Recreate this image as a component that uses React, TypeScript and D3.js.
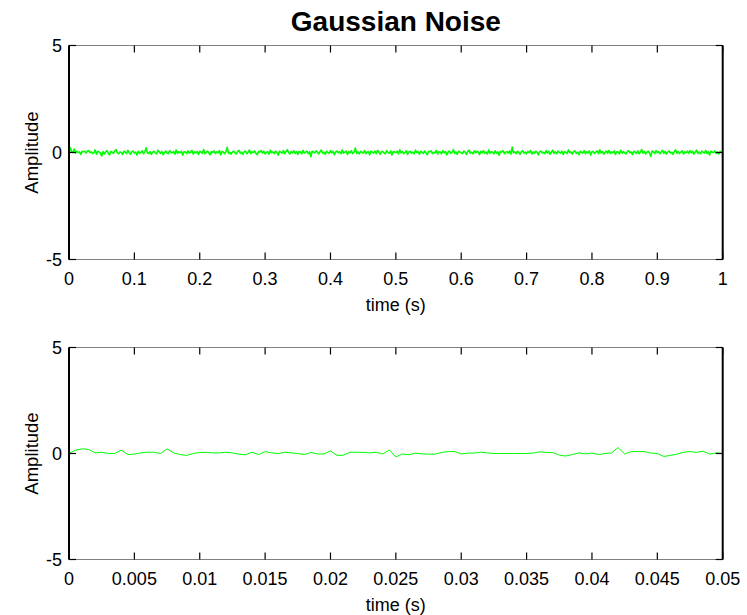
import React from "react";
import * as d3 from "d3";

const TITLE = "Gaussian Noise";
const X_LABEL = "time (s)";
const Y_LABEL = "Amplitude";
const FS_TOP = 500; // samples per second drawn in the top panel
const FS_BOTTOM = 2000; // samples per second in the zoomed panel
const Y_TICKS = [-5, 0, 5];
const TOP_X_TICKS = [0, 0.1, 0.2, 0.3, 0.4, 0.5, 0.6, 0.7, 0.8, 0.9, 1];
const BOTTOM_X_TICKS = [0, 0.005, 0.01, 0.015, 0.02, 0.025, 0.03, 0.035, 0.04, 0.045, 0.05];

// zoomed panel: 0 .. 0.05 s
const noiseZoom = [
  0, .16, .22, .19, .03, .06, 0, 0, .16, -.05, -.03, .03, .06, .06, 0, .22, .03, -.05, -.09, 0,
  .05, .05, .03, .03, .06, .03, -.03, -.06, .06, -.05, .09, .03, 0, .06, .03, 0, -.05, .05, -.02, -.02,
  .12, -.09, -.08, .06, .06, .05, .03, .06, -.02, .17, -.16, -.02, -.06, .02, -.02, -.03, -.03, .05, .09, .09,
  -.02, .02, .02, .06, .03, 0, 0, 0, 0, 0, 0, .02, .08, .05, .05, -.08, -.12, -.05, .03, -.02,
  .02, -.05, 0, .03, .28, -.02, .09, .09, .09, .02, 0, -.14, -.09, -.03, .06, .09, .05, .11, -.03, .03, 0,
];

// full panel: 0 .. 1 s
const noiseFull = [
  0, .22, .03, 0, .16, -.03, .06, 0, .03, -.09, .05, .03, .06, -.03, .06, .09, 0, .03, -.05, -.02, .12, -.08, .06, .03, -.02, -.16,
  .04, -.07, .02, .09, -.03, -.11, .05, .01, -.04, .08, .13, -.02, -.06, .03, .00, -.09, .06, .02, -.05, .10, -.01, -.08, .04, .07, -.03,
  .02, -.12, .06, -.04, .01, .08, -.06, .03, .22, -.02, -.05, .04, -.09, .02, .06, -.01, -.07, .11, .03, -.04, .05, -.10, .00, .07, -.03,
  -.06, .09, .01, -.02, .05, -.08, .12, -.04, .03, -.01, .06, -.13, .04, .02, -.05, .08, -.03, .01, .10, -.07, .03, -.02, .05, -.09, .06,
  .02, -.04, .14, -.06, .01, .07, -.03, -.10, .04, .00, .08, -.05, .03, -.02, .09, -.11, .05, .02, -.06, .04, .24, -.04, .01, -.08, .03,
  .06, -.02, -.07, .05, .10, -.03, .02, -.09, .04, .07, -.05, .01, .12, -.06, .03, -.01, .08, -.04, -.10, .05, .02, .09, -.03, .06, -.07,
  .01, .04, -.08, .11, -.02, .03, -.05, .07, .00, -.12, .06, .02, -.03, .09, -.06, .04, .13, -.01, -.07, .05, -.02, .08, -.04, .03, -.09,
  .05, .02, -.06, .10, -.03, .01, .07, -.05, .04, -.20, .06, .03, -.02, .08, .01, -.07, .04, .11, -.03, .02, -.08, .06, .00, -.04, .09,
  -.02, .05, -.10, .03, .07, -.01, .04, -.06, .12, -.03, .02, .06, -.09, .04, -.02, .08, -.05, .01, .21, -.04, .03, -.07, .05, .02, -.03,
  .09, -.06, .02, .04, -.11, .07, .01, -.03, .06, -.05, .10, .02, -.08, .03, .05, -.02, -.06, .09, .01, -.04, .07, -.12, .04, .03, -.01,
  .06, -.07, .13, -.02, .04, -.05, .01, .08, -.09, .03, .05, -.03, .02, -.06, .11, -.01, .04, -.08, .06, .02, -.04, .07, -.02, -.10, .05,
  .03, .08, -.05, .01, -.03, .10, -.07, .04, .02, -.06, .09, -.02, .05, -.11, .03, .07, -.04, .01, .14, -.05, .02, -.08, .06, .03, -.02,
  -.05, .07, .02, -.09, .04, .11, -.03, .01, -.06, .08, -.02, .05, .03, -.10, .06, -.01, .09, -.04, .02, -.07, .12, -.03, .04, .01, -.06,
  .08, -.04, .03, -.13, .05, .02, .09, -.06, .01, .04, -.03, .07, -.08, .25, -.02, .03, -.05, .06, .01, -.09, .04, .08, -.03, .02, -.06,
  .05, -.01, .10, -.07, .03, -.04, .06, .02, -.11, .04, .07, -.02, .01, -.05, .09, -.03, .05, -.08, .02, .11, -.04, .03, -.06, .07, .00,
  -.03, .06, -.09, .04, .02, -.05, .12, -.01, .03, -.07, .05, .08, -.04, .02, -.10, .06, .01, -.03, .09, -.06, .04, -.02, .07, -.12, .03,
  .05, -.04, .02, .08, -.06, .13, -.02, .04, -.08, .01, .06, -.03, .10, -.05, .03, -.01, .07, -.09, .04, .02, -.06, .11, -.03, .05, -.02,
  -.07, .04, .09, -.01, .03, -.10, .06, .02, -.04, .08, -.05, .01, .14, -.03, .05, -.07, .02, .06, -.02, -.18, .07, .03, -.05, .09, -.01,
  .04, -.06, .02, .10, -.04, .05, -.08, .03, .07, -.02, .01, -.09, .06, .12, -.03, .04, -.05, .02, .08, -.07, .03, -.01, .06, -.04, .09,
  -.02, .05, -.08, .03, .11, -.04, .02, -.06, .07, .01, -.03, .10, -.05, .04, -.12, .06, .02, -.01, .08, -.04, .03, -.07, .05, .02, -.03,
];

const FONT = "'Liberation Sans', Arial, Helvetica, sans-serif";
const GREEN = "#00ff00";

type PanelProps = {
  values: number[];
  fs: number;
  xTicks: number[];
  top: number;
  bottom: number;
  left: number;
  right: number;
  lineWidth: number;
};

function Panel({ values, fs, xTicks, top, bottom, left, right, lineWidth }: PanelProps) {
  const x = d3.scaleLinear().domain([xTicks[0], xTicks[xTicks.length - 1]]).range([left, right]);
  const y = d3.scaleLinear().domain([Y_TICKS[0], Y_TICKS[Y_TICKS.length - 1]]).range([bottom, top]);
  const line = d3
    .line<number>()
    .x((_, i) => x(i / fs))
    .y((d) => y(d));
  const tick = 7;
  const fmt = (v: number) => String(+v.toFixed(4));
  return (
    <g>
      <path d={line(values) || ""} fill="none" stroke={GREEN} strokeWidth={lineWidth} strokeLinejoin="round" />
      {/* box */}
      <line x1={left} x2={right} y1={top} y2={top} stroke="#808080" strokeWidth={1} />
      <line x1={left} x2={right} y1={bottom} y2={bottom} stroke="#808080" strokeWidth={1} />
      <line x1={left} x2={left} y1={top} y2={bottom} stroke="#000" strokeWidth={2} />
      <line x1={right} x2={right} y1={top} y2={bottom} stroke="#000" strokeWidth={2} />
      {xTicks.map((t) => (
        <g key={"x" + t}>
          <line x1={x(t)} x2={x(t)} y1={bottom} y2={bottom - tick} stroke="#000" strokeWidth={1.2} />
          <line x1={x(t)} x2={x(t)} y1={top} y2={top + tick} stroke="#000" strokeWidth={1.2} />
          <text x={x(t)} y={bottom + 25.5} textAnchor="middle" fontSize={18} fontFamily={FONT} fill="#000">
            {fmt(t)}
          </text>
        </g>
      ))}
      {Y_TICKS.map((t) => (
        <g key={"y" + t}>
          <line x1={left} x2={left + tick} y1={y(t)} y2={y(t)} stroke="#000" strokeWidth={1.2} />
          <line x1={right} x2={right - tick} y1={y(t)} y2={y(t)} stroke="#000" strokeWidth={1.2} />
          <text x={62} y={y(t) + 6.5} textAnchor="end" fontSize={18} fontFamily={FONT} fill="#000">
            {t}
          </text>
        </g>
      ))}
      <text x={(left + right) / 2} y={bottom + 51} textAnchor="middle" fontSize={18} fontFamily={FONT} fill="#000">
        {X_LABEL}
      </text>
      <text
        transform={`translate(38,${(top + bottom) / 2}) rotate(-90)`}
        textAnchor="middle"
        fontSize={18.5}
        fontFamily={FONT}
        fill="#000"
      >
        {Y_LABEL}
      </text>
    </g>
  );
}

export default function App() {
  const left = 69;
  const right = 722.7;
  return (
    <svg
      width={747}
      height={615}
      style={{ position: "absolute", left: 0, top: 0, background: "#fff" }}
    >
      <rect x={0} y={0} width={747} height={615} fill="#fff" />
      <text x={(left + right) / 2} y={31} textAnchor="middle" fontSize={28} fontWeight="bold" fontFamily={FONT} fill="#000">
        {TITLE}
      </text>
      <Panel values={noiseFull} fs={FS_TOP} xTicks={TOP_X_TICKS} top={45.5} bottom={259.5} left={left} right={right} lineWidth={1.6} />
      <Panel values={noiseZoom} fs={FS_BOTTOM} xTicks={BOTTOM_X_TICKS} top={347.5} bottom={559.5} left={left} right={right} lineWidth={1} />
    </svg>
  );
}
